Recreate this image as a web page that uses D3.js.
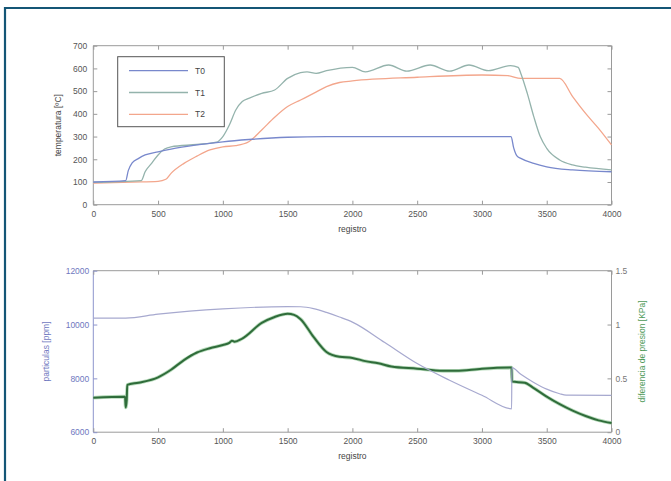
<!DOCTYPE html>
<html><head><meta charset="utf-8">
<script src="https://cdn.jsdelivr.net/npm/d3@7"></script>
<style>
html,body{margin:0;padding:0;background:#fff;}
svg{display:block;}
text{font-family:"Liberation Sans",Arial,sans-serif;}
</style></head>
<body>
<svg id="c" width="671" height="481"></svg>
<script>
// ---------- DATA ----------
const xTicks = [0,500,1000,1500,2000,2500,3000,3500,4000];
const tempTicks = [0,100,200,300,400,500,600,700];
const partTicks = [6000,8000,10000,12000];
const presTicks = [0,0.5,1,1.5];

const t0X = [0,250,270,300,350,400,500,600,800,1000,1200,1500,1800,2500,3225,3245,3270,3300,3400,3500,3700,4000];
const t0Y = [100,106,150,184,204,219,233,245,263,277,287,297,300,300,300,250,215,204,182,167,153,145];

const t1X = [0,370,400,450,500,550,600,800,950,1000,1050,1100,1150,1200,1300,1400,1500,1600,1650,1720,1800,2000,2100,2280,2420,2600,2750,2900,3050,3220,3280,3300,3350,3400,3450,3500,3600,3700,3800,4000];
const t1Y = [98,106,145,182,219,245,255,265,275,300,351,417,454,468,490,505,556,581,585,578,590,605,585,615,588,615,588,615,590,612,605,578,490,388,300,248,197,175,165,153];

const t2X = [0,300,500,560,600,700,800,900,1000,1100,1200,1300,1400,1500,1600,1700,1800,1900,2000,2500,3000,3200,3300,3600,3700,3800,3900,4000];
const t2Y = [95,100,103,112,138,182,214,241,255,260,277,329,385,432,461,490,520,538,545,561,571,568,556,556,476,402,336,263];

const partX = [0,250,500,1000,1500,1600,1700,1800,1900,2000,2250,2500,2750,3000,3229,3231,3300,3400,3500,3600,3650,4000];
const partY = [10240,10240,10385,10582,10667,10660,10590,10450,10280,10090,9330,8550,7930,7370,6870,8400,8150,7850,7600,7430,7380,7370];

const presX = [0,245,250,258,262,350,500,600,700,800,900,1000,1050,1070,1090,1150,1300,1400,1500,1550,1600,1700,1800,1900,2000,2100,2200,2300,2500,2700,2800,3000,3229,3232,3330,3400,3500,3600,3700,3800,3900,4000];
const presY = [0.32,0.33,0.23,0.30,0.44,0.46,0.51,0.58,0.67,0.74,0.78,0.81,0.83,0.85,0.84,0.87,1.015,1.07,1.10,1.09,1.05,0.885,0.745,0.70,0.69,0.66,0.64,0.61,0.59,0.57,0.57,0.59,0.60,0.47,0.46,0.41,0.33,0.26,0.20,0.15,0.11,0.085];

const series = ["T0","T1","T2"];
const colors = {T0:"#7888cc",T1:"#94b3ac",T2:"#f3a68c"};

// ---------- LAYOUT ----------
const svg = d3.select("#c");
const L = 93.3, R = 611.5;
const top1 = 45.7, bot1 = 204.7;
const top2 = 270.7, bot2 = 432.2;

// frame
svg.append("line").attr("x1",5).attr("x2",671).attr("y1",8).attr("y2",8).attr("stroke","#145676").attr("stroke-width",2.2);
svg.append("line").attr("x1",5).attr("x2",5).attr("y1",7).attr("y2",481).attr("stroke","#145676").attr("stroke-width",2.2);

const x = d3.scaleLinear().domain([0,4000]).range([L,R]);
const yT = d3.scaleLinear().domain([0,700]).range([bot1,top1]);
const yP = d3.scaleLinear().domain([6000,12000]).range([bot2,top2]);
const yD = d3.scaleLinear().domain([0,1.5]).range([bot2,top2]);

const tickCol = "#555", axisCol = "#9a9a9a";
const fmtInt = d3.format("d");

function styleAxis(g, col, textCol){
  g.select(".domain").remove();
  g.selectAll(".tick line").attr("stroke",col);
  g.selectAll(".tick text").attr("fill",textCol).attr("font-size","8.5px");
}

function box(t,b,leftCol,rightCol){
  svg.append("line").attr("x1",L).attr("x2",R).attr("y1",t).attr("y2",t).attr("stroke",axisCol);
  svg.append("line").attr("x1",L).attr("x2",R).attr("y1",b).attr("y2",b).attr("stroke",axisCol);
  svg.append("line").attr("x1",L).attr("x2",L).attr("y1",t).attr("y2",b).attr("stroke",leftCol);
  svg.append("line").attr("x1",R).attr("x2",R).attr("y1",t).attr("y2",b).attr("stroke",rightCol);
}

// ---------- TOP PLOT ----------
box(top1,bot1,axisCol,axisCol);
let g = svg.append("g").attr("transform",`translate(0,${bot1})`).call(d3.axisBottom(x).tickValues(xTicks).tickFormat(fmtInt).tickSizeInner(-4).tickPadding(6));
styleAxis(g,axisCol,tickCol);
g = svg.append("g").attr("transform",`translate(0,${top1})`).call(d3.axisTop(x).tickValues(xTicks).tickFormat("").tickSizeInner(-4));
styleAxis(g,axisCol,tickCol);
g = svg.append("g").attr("transform",`translate(${L},0)`).call(d3.axisLeft(yT).tickValues(tempTicks).tickFormat(fmtInt).tickSizeInner(-4).tickPadding(6));
styleAxis(g,axisCol,tickCol);
g = svg.append("g").attr("transform",`translate(${R},0)`).call(d3.axisRight(yT).tickValues(tempTicks).tickFormat("").tickSizeInner(-4));
styleAxis(g,axisCol,tickCol);

const lineT = d3.line().x(d=>x(d[0])).y(d=>yT(d[1])).curve(d3.curveMonotoneX);
const tData = {T0:d3.zip(t0X,t0Y), T1:d3.zip(t1X,t1Y), T2:d3.zip(t2X,t2Y)};
["T2","T1","T0"].forEach(s=>{
  svg.append("path").datum(tData[s]).attr("d",lineT).attr("fill","none")
    .attr("stroke",colors[s]).attr("stroke-width",1.3);
});

// legend
const lg = svg.append("g");
lg.append("rect").attr("x",117.7).attr("y",56.7).attr("width",106.6).attr("height",70).attr("fill","#fff").attr("stroke","#555").attr("stroke-width",1);
series.forEach((s,i)=>{
  const yy = 70.7 + i*21.8;
  lg.append("line").attr("x1",129).attr("x2",188).attr("y1",yy).attr("y2",yy).attr("stroke",colors[s]).attr("stroke-width",1.3);
  lg.append("text").attr("x",195).attr("y",yy+3).attr("font-size","8.5px").attr("fill","#444").text(s);
});

svg.append("text").attr("x",(L+R)/2).attr("y",232).attr("text-anchor","middle").attr("font-size","8.5px").attr("fill","#444").text("registro");
svg.append("text").attr("transform",`translate(61,${(top1+bot1)/2}) rotate(-90)`).attr("text-anchor","middle").attr("font-size","8.5px").attr("fill","#444").text("temperatura [ºC]");

// ---------- BOTTOM PLOT ----------
const blueAx = "#8d94cc";
box(top2,bot2,blueAx,axisCol);
g = svg.append("g").attr("transform",`translate(0,${bot2})`).call(d3.axisBottom(x).tickValues(xTicks).tickFormat(fmtInt).tickSizeInner(-4).tickPadding(6));
styleAxis(g,axisCol,tickCol);
g = svg.append("g").attr("transform",`translate(0,${top2})`).call(d3.axisTop(x).tickValues(xTicks).tickFormat("").tickSizeInner(-4));
styleAxis(g,axisCol,tickCol);
g = svg.append("g").attr("transform",`translate(${L},0)`).call(d3.axisLeft(yP).tickValues(partTicks).tickFormat(fmtInt).tickSizeInner(-4).tickPadding(4));
styleAxis(g,blueAx,"#6f78c0");
g = svg.append("g").attr("transform",`translate(${R},0)`).call(d3.axisRight(yD).tickValues(presTicks).tickFormat(d=>String(d)).tickSizeInner(-4).tickPadding(4));
styleAxis(g,axisCol,"#777");

const lineP = d3.line().x(d=>x(d[0])).y(d=>yP(d[1])).curve(d3.curveMonotoneX);
const lineD = d3.line().x(d=>x(d[0])).y(d=>yD(d[1])).curve(d3.curveMonotoneX);
const pData = d3.zip(partX,partY), dData = d3.zip(presX,presY);

svg.append("path").datum(dData).attr("d",lineD).attr("fill","none").attr("stroke","#86c28c").attr("stroke-width",3.6).attr("opacity",0.6);
svg.append("path").datum(dData).attr("d",lineD).attr("fill","none").attr("stroke","#2f6c3a").attr("stroke-width",2);
svg.append("path").datum(pData).attr("d",lineP).attr("fill","none").attr("stroke","#a7a9cf").attr("stroke-width",1.2);

svg.append("text").attr("x",(L+R)/2).attr("y",459).attr("text-anchor","middle").attr("font-size","8.5px").attr("fill","#444").text("registro");
svg.append("text").attr("transform",`translate(49,${(top2+bot2)/2}) rotate(-90)`).attr("text-anchor","middle").attr("font-size","8.5px").attr("fill","#6f78c0").text("particulas [ppm]");
svg.append("text").attr("transform",`translate(645,${(top2+bot2)/2}) rotate(-90)`).attr("text-anchor","middle").attr("font-size","8.5px").attr("fill","#4e9a58").text("diferencia de presion [KPa]");
</script>
</body></html>
